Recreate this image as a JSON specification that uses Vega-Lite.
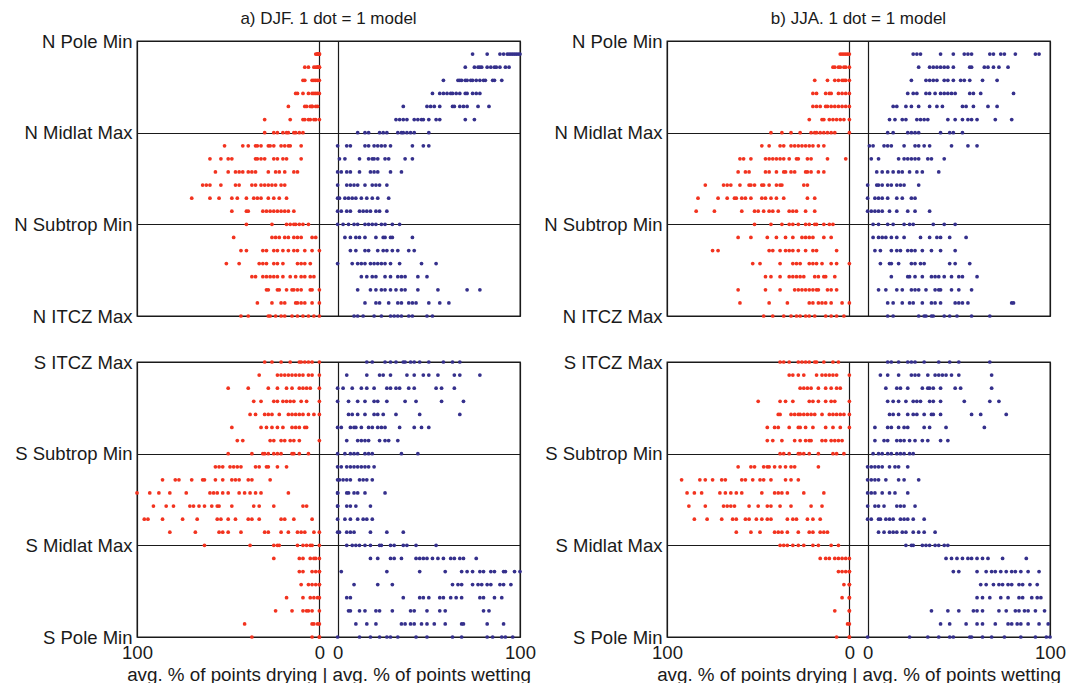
{
"$schema": "https://vega.github.io/schema/vega-lite/v6.json",
"padding": {"left": 6, "top": 9, "right": 0, "bottom": 0},
"config": {
 "font": "Liberation Sans",
 "view": {"stroke": "#1a1a1a", "strokeWidth": 1.3},
 "axis": {"grid": true, "gridColor": "#1a1a1a", "gridOpacity": 1, "gridWidth": 1.2, "ticks": false, "domain": false, "labelFont": "Liberation Sans", "labelFontSize": 18.5, "labelColor": "#1a1a1a", "titleFont": "Liberation Sans", "titleFontSize": 18.8, "titleFontWeight": "normal", "titleColor": "#1a1a1a"},
 "title": {"font": "Liberation Sans", "fontSize": 17, "fontWeight": "normal", "color": "#1a1a1a", "offset": 4, "anchor": "middle", "frame": "group"},
 "point": {"filled": true, "size": 14, "opacity": 1, "strokeWidth": 0}
},
"datasets": {
"aN": [
{"r":1,"d":0,"w":74},{"r":1,"d":0,"w":82},{"r":1,"d":1,"w":89},{"r":1,"d":1,"w":91},{"r":1,"d":2,"w":93},{"r":1,"d":0,"w":94},{"r":1,"d":1,"w":95},{"r":1,"d":1,"w":96},{"r":1,"w":97},{"r":1,"w":98},{"r":1,"w":99},{"r":1,"w":100},
{"r":2,"d":8,"w":70},{"r":2,"d":6,"w":75},{"r":2,"d":3,"w":77},{"r":2,"d":2,"w":78},{"r":2,"d":1,"w":79},{"r":2,"d":1,"w":82},{"r":2,"d":0,"w":84},{"r":2,"d":0,"w":86},{"r":2,"w":87},{"r":2,"w":89},{"r":2,"w":92},{"r":2,"w":94},
{"r":3,"d":9,"w":58},{"r":3,"d":8,"w":66},{"r":3,"d":4,"w":67},{"r":3,"d":3,"w":68},{"r":3,"d":2,"w":70},{"r":3,"d":1,"w":71},{"r":3,"d":0,"w":73},{"r":3,"w":74},{"r":3,"w":76},{"r":3,"w":78},{"r":3,"w":80},{"r":3,"w":81},{"r":3,"w":85},{"r":3,"w":86},{"r":3,"w":90},
{"r":4,"d":13,"w":52},{"r":4,"d":12,"w":56},{"r":4,"d":9,"w":58},{"r":4,"d":6,"w":60},{"r":4,"d":4,"w":62},{"r":4,"d":3,"w":63},{"r":4,"d":2,"w":65},{"r":4,"d":1,"w":67},{"r":4,"d":0,"w":70},{"r":4,"w":71},{"r":4,"w":74},{"r":4,"w":76},{"r":4,"w":78},
{"r":5,"d":17,"w":36},{"r":5,"d":8,"w":49},{"r":5,"d":7,"w":51},{"r":5,"d":5,"w":53},{"r":5,"d":4,"w":56},{"r":5,"d":4,"w":63},{"r":5,"d":2,"w":64},{"r":5,"d":1,"w":67},{"r":5,"w":69},{"r":5,"w":71},{"r":5,"w":77},{"r":5,"w":83},
{"r":6,"d":30,"w":32},{"r":6,"d":16,"w":34},{"r":6,"d":9,"w":36},{"r":6,"d":8,"w":38},{"r":6,"d":6,"w":42},{"r":6,"d":5,"w":44},{"r":6,"d":3,"w":46},{"r":6,"d":2,"w":47},{"r":6,"d":0,"w":50},{"r":6,"w":54},{"r":6,"w":56},{"r":6,"w":70},{"r":6,"w":75},
{"r":7,"d":30,"w":11},{"r":7,"d":25,"w":15},{"r":7,"d":23,"w":17},{"r":7,"d":20,"w":23},{"r":7,"d":18,"w":25},{"r":7,"d":17,"w":27},{"r":7,"d":14,"w":33},{"r":7,"d":13,"w":35},{"r":7,"d":11,"w":36},{"r":7,"d":9,"w":38},{"r":7,"w":40},{"r":7,"w":42},{"r":7,"w":50},
{"r":8,"d":52,"w":0},{"r":8,"d":42,"w":5},{"r":8,"d":39,"w":7},{"r":8,"d":35,"w":15},{"r":8,"d":34,"w":17},{"r":8,"d":32,"w":20},{"r":8,"d":28,"w":22},{"r":8,"d":27,"w":24},{"r":8,"d":25,"w":26},{"r":8,"d":21,"w":29},{"r":8,"d":19,"w":41},{"r":8,"d":17,"w":47},{"r":8,"d":16,"w":50},{"r":8,"d":10},
{"r":9,"d":60,"w":1},{"r":9,"d":54,"w":4},{"r":9,"d":50,"w":12},{"r":9,"d":48,"w":17},{"r":9,"d":35,"w":19},{"r":9,"d":34,"w":20},{"r":9,"d":32,"w":22},{"r":9,"d":30,"w":26},{"r":9,"d":25,"w":28},{"r":9,"d":23,"w":37},{"r":9,"d":20,"w":41},{"r":9,"d":18},{"r":9,"d":10},
{"r":10,"d":57,"w":0},{"r":10,"d":50,"w":2},{"r":10,"d":46,"w":5},{"r":10,"d":44,"w":7},{"r":10,"d":42,"w":12},{"r":10,"d":39,"w":18},{"r":10,"d":37,"w":20},{"r":10,"d":35,"w":22},{"r":10,"d":28,"w":29},{"r":10,"d":24,"w":35},{"r":10,"d":22},{"r":10,"d":19},{"r":10,"d":14},{"r":10,"d":12},
{"r":11,"d":64,"w":0},{"r":11,"d":62,"w":5},{"r":11,"d":60,"w":7},{"r":11,"d":54,"w":9},{"r":11,"d":46,"w":11},{"r":11,"d":44,"w":15},{"r":11,"d":37,"w":19},{"r":11,"d":35,"w":21},{"r":11,"d":32,"w":23},{"r":11,"d":30,"w":27},{"r":11,"d":28},{"r":11,"d":26},{"r":11,"d":24},{"r":11,"d":21},{"r":11,"d":19},
{"r":12,"d":70,"w":0},{"r":12,"d":60,"w":1},{"r":12,"d":55,"w":4},{"r":12,"d":48,"w":6},{"r":12,"d":45,"w":8},{"r":12,"d":40,"w":10},{"r":12,"d":36,"w":13},{"r":12,"d":34,"w":16},{"r":12,"d":32,"w":19},{"r":12,"d":28,"w":22},{"r":12,"d":25,"w":28},{"r":12,"d":22},{"r":12,"d":18},
{"r":13,"d":48,"w":0},{"r":13,"d":40,"w":2},{"r":13,"d":39,"w":5},{"r":13,"d":31,"w":7},{"r":13,"d":29,"w":12},{"r":13,"d":27,"w":14},{"r":13,"d":25,"w":16},{"r":13,"d":23,"w":18},{"r":13,"d":21,"w":21},{"r":13,"d":19,"w":23},{"r":13,"d":17,"w":27},{"r":13,"d":14},
{"r":14,"d":40,"w":0},{"r":14,"d":26,"w":3},{"r":14,"d":18,"w":6},{"r":14,"d":16,"w":9},{"r":14,"d":14,"w":11},{"r":14,"d":13,"w":15},{"r":14,"d":11,"w":17},{"r":14,"d":9,"w":19},{"r":14,"d":6,"w":21},{"r":14,"w":24},{"r":14,"w":26},{"r":14,"w":30},{"r":14,"w":34},
{"r":15,"d":47,"w":4},{"r":15,"d":26,"w":7},{"r":15,"d":24,"w":10},{"r":15,"d":22,"w":12},{"r":15,"d":19,"w":15},{"r":15,"d":17,"w":21},{"r":15,"d":14,"w":25},{"r":15,"d":12,"w":26},{"r":15,"d":10,"w":29},{"r":15,"d":4,"w":30},{"r":15,"d":2,"w":41},
{"r":16,"d":43,"w":7},{"r":16,"d":40,"w":10},{"r":16,"d":31,"w":15},{"r":16,"d":29,"w":17},{"r":16,"d":25,"w":22},{"r":16,"d":23,"w":25},{"r":16,"d":20,"w":27},{"r":16,"d":17,"w":30},{"r":16,"d":14,"w":33},{"r":16,"d":12,"w":39},{"r":16,"d":8,"w":42},{"r":16,"d":4},{"r":16,"d":0},
{"r":17,"d":51,"w":0},{"r":17,"d":44,"w":8},{"r":17,"d":33,"w":11},{"r":17,"d":31,"w":13},{"r":17,"d":29,"w":15},{"r":17,"d":25,"w":18},{"r":17,"d":23,"w":20},{"r":17,"d":20,"w":22},{"r":17,"d":12,"w":24},{"r":17,"d":10,"w":26},{"r":17,"d":8,"w":29},{"r":17,"d":5,"w":34},{"r":17,"w":46},{"r":17,"w":54},
{"r":18,"d":37,"w":13},{"r":18,"d":35,"w":16},{"r":18,"d":31,"w":19},{"r":18,"d":29,"w":21},{"r":18,"d":27,"w":26},{"r":18,"d":25,"w":29},{"r":18,"d":23,"w":33},{"r":18,"d":20,"w":35},{"r":18,"d":16,"w":37},{"r":18,"d":13,"w":44},{"r":18,"d":10,"w":49},{"r":18,"d":8},{"r":18,"d":5},{"r":18,"d":3},
{"r":19,"d":29,"w":11},{"r":19,"d":28,"w":18},{"r":19,"d":23,"w":21},{"r":19,"d":22,"w":24},{"r":19,"d":18,"w":26},{"r":19,"d":15,"w":29},{"r":19,"d":14,"w":32},{"r":19,"d":12,"w":35},{"r":19,"d":10,"w":37},{"r":19,"d":5,"w":44},{"r":19,"d":4,"w":55},{"r":19,"d":0,"w":71},{"r":19,"w":78},
{"r":20,"d":34,"w":15},{"r":20,"d":26,"w":21},{"r":20,"d":21,"w":23},{"r":20,"d":19,"w":28},{"r":20,"d":13,"w":33},{"r":20,"d":12,"w":35},{"r":20,"d":10,"w":39},{"r":20,"d":8,"w":41},{"r":20,"d":4,"w":43},{"r":20,"d":0,"w":50},{"r":20,"w":56},{"r":20,"w":61},
{"r":21,"d":43,"w":9},{"r":21,"d":39,"w":11},{"r":21,"d":28,"w":14},{"r":21,"d":27,"w":20},{"r":21,"d":24,"w":24},{"r":21,"d":21,"w":29},{"r":21,"d":19,"w":31},{"r":21,"d":15,"w":33},{"r":21,"d":12,"w":35},{"r":21,"d":9,"w":39},{"r":21,"d":6,"w":41},{"r":21,"d":3,"w":49},{"r":21,"d":0,"w":52}
],
"aS": [
{"r":0,"d":30,"w":16},{"r":0,"d":26,"w":19},{"r":0,"d":21,"w":26},{"r":0,"d":16,"w":29},{"r":0,"d":11,"w":32},{"r":0,"d":10,"w":36},{"r":0,"d":8,"w":37},{"r":0,"d":6,"w":40},{"r":0,"d":4,"w":42},{"r":0,"d":0,"w":45},{"r":0,"w":50},{"r":0,"w":58},{"r":0,"w":63},{"r":0,"w":67},
{"r":1,"d":33,"w":5},{"r":1,"d":23,"w":16},{"r":1,"d":21,"w":23},{"r":1,"d":19,"w":25},{"r":1,"d":17,"w":29},{"r":1,"d":15,"w":38},{"r":1,"d":13,"w":42},{"r":1,"d":11,"w":47},{"r":1,"d":9,"w":50},{"r":1,"d":6,"w":55},{"r":1,"d":4,"w":64},{"r":1,"d":0,"w":67},{"r":1,"w":78},
{"r":2,"d":50,"w":0},{"r":2,"d":39,"w":3},{"r":2,"d":28,"w":8},{"r":2,"d":23,"w":13},{"r":2,"d":18,"w":16},{"r":2,"d":15,"w":20},{"r":2,"d":11,"w":27},{"r":2,"d":9,"w":29},{"r":2,"d":7,"w":32},{"r":2,"d":5,"w":34},{"r":2,"d":0,"w":39},{"r":2,"w":42},{"r":2,"w":54},{"r":2,"w":57},{"r":2,"w":64},
{"r":3,"d":36,"w":0},{"r":3,"d":32,"w":6},{"r":3,"d":25,"w":11},{"r":3,"d":23,"w":15},{"r":3,"d":20,"w":20},{"r":3,"d":18,"w":22},{"r":3,"d":16,"w":27},{"r":3,"d":14,"w":37},{"r":3,"d":10,"w":43},{"r":3,"d":7,"w":57},{"r":3,"d":0,"w":69},
{"r":4,"d":38,"w":6},{"r":4,"d":35,"w":8},{"r":4,"d":30,"w":11},{"r":4,"d":28,"w":15},{"r":4,"d":26,"w":20},{"r":4,"d":22,"w":22},{"r":4,"d":17,"w":25},{"r":4,"d":15,"w":32},{"r":4,"d":13,"w":45},{"r":4,"d":11,"w":67},{"r":4,"d":9},{"r":4,"d":6},{"r":4,"d":3},{"r":4,"d":0},
{"r":5,"d":48,"w":0},{"r":5,"d":32,"w":2},{"r":5,"d":29,"w":7},{"r":5,"d":26,"w":9},{"r":5,"d":23,"w":10},{"r":5,"d":20,"w":13},{"r":5,"d":15,"w":17},{"r":5,"d":13,"w":19},{"r":5,"d":11,"w":22},{"r":5,"d":8,"w":24},{"r":5,"d":7,"w":26},{"r":5,"w":34},{"r":5,"w":42},{"r":5,"w":46},{"r":5,"w":50},
{"r":6,"d":45,"w":5},{"r":6,"d":42,"w":11},{"r":6,"d":27,"w":13},{"r":6,"d":25,"w":15},{"r":6,"d":21,"w":17},{"r":6,"d":19,"w":23},{"r":6,"d":16,"w":26},{"r":6,"d":14,"w":28},{"r":6,"d":11,"w":33},{"r":6,"d":0},
{"r":7,"d":50,"w":0},{"r":7,"d":37,"w":4},{"r":7,"d":31,"w":7},{"r":7,"d":30,"w":9},{"r":7,"d":28,"w":11},{"r":7,"d":25,"w":15},{"r":7,"d":23,"w":17},{"r":7,"d":21,"w":19},{"r":7,"d":15,"w":35},{"r":7,"d":14,"w":44},{"r":7,"d":11},{"r":7,"d":6},
{"r":8,"d":57,"w":0},{"r":8,"d":55,"w":2},{"r":8,"d":53,"w":5},{"r":8,"d":49,"w":7},{"r":8,"d":47,"w":9},{"r":8,"d":45,"w":11},{"r":8,"d":43,"w":13},{"r":8,"d":35,"w":15},{"r":8,"d":33,"w":17},{"r":8,"d":29,"w":20},{"r":8,"d":28},{"r":8,"d":23},{"r":8,"d":18},
{"r":9,"d":86,"w":0},{"r":9,"d":79,"w":1},{"r":9,"d":77,"w":3},{"r":9,"d":70,"w":5},{"r":9,"d":64,"w":7},{"r":9,"d":63,"w":12},{"r":9,"d":57,"w":14},{"r":9,"d":53,"w":16},{"r":9,"d":48,"w":19},{"r":9,"d":46},{"r":9,"d":44},{"r":9,"d":39},{"r":9,"d":37},{"r":9,"d":27},
{"r":10,"d":100,"w":0},{"r":10,"d":93,"w":0},{"r":10,"d":88,"w":5},{"r":10,"d":82,"w":6},{"r":10,"d":73,"w":9},{"r":10,"d":60,"w":11},{"r":10,"d":58,"w":15},{"r":10,"d":56,"w":26},{"r":10,"d":53},{"r":10,"d":50},{"r":10,"d":44},{"r":10,"d":41},{"r":10,"d":38},{"r":10,"d":35},{"r":10,"d":32},{"r":10,"d":17},
{"r":11,"d":91,"w":0},{"r":11,"d":84,"w":0},{"r":11,"d":80,"w":5},{"r":11,"d":71,"w":7},{"r":11,"d":69,"w":10},{"r":11,"d":66,"w":18},{"r":11,"d":63},{"r":11,"d":59},{"r":11,"d":56},{"r":11,"d":55},{"r":11,"d":48},{"r":11,"d":36},{"r":11,"d":33},{"r":11,"d":25},{"r":11,"d":9},{"r":11,"d":7},
{"r":12,"d":96,"w":0},{"r":12,"d":94,"w":4},{"r":12,"d":86,"w":7},{"r":12,"d":75,"w":11},{"r":12,"d":67,"w":14},{"r":12,"d":56,"w":16},{"r":12,"d":54,"w":19},{"r":12,"d":50},{"r":12,"d":46},{"r":12,"d":39},{"r":12,"d":37},{"r":12,"d":33},{"r":12,"d":21},{"r":12,"d":19},{"r":12,"d":14},{"r":12,"d":4},
{"r":13,"d":82,"w":0},{"r":13,"d":68,"w":1},{"r":13,"d":55,"w":5},{"r":13,"d":53,"w":7},{"r":13,"d":50,"w":9},{"r":13,"d":43,"w":18},{"r":13,"d":30,"w":27},{"r":13,"d":28,"w":36},{"r":13,"d":21},{"r":13,"d":17},{"r":13,"d":12},{"r":13,"d":10},{"r":13,"d":8},{"r":13,"d":3},{"r":13,"d":0},
{"r":14,"d":63,"w":5},{"r":14,"d":38,"w":8},{"r":14,"d":25,"w":10},{"r":14,"d":23,"w":12},{"r":14,"d":22,"w":15},{"r":14,"d":12,"w":18},{"r":14,"d":9,"w":23},{"r":14,"d":7,"w":24},{"r":14,"d":5,"w":29},{"r":14,"d":4,"w":31},{"r":14,"d":0,"w":36},{"r":14,"w":38},{"r":14,"w":43},{"r":14,"w":54},
{"r":15,"d":25,"w":18},{"r":15,"d":11,"w":22},{"r":15,"d":9,"w":29},{"r":15,"d":5,"w":31},{"r":15,"d":3,"w":35},{"r":15,"d":2,"w":43},{"r":15,"d":0,"w":45},{"r":15,"w":47},{"r":15,"w":49},{"r":15,"w":52},{"r":15,"w":55},{"r":15,"w":58},{"r":15,"w":62},{"r":15,"w":64},{"r":15,"w":67},{"r":15,"w":69},{"r":15,"w":76},
{"r":16,"d":11,"w":2},{"r":16,"d":9,"w":27},{"r":16,"d":4,"w":45},{"r":16,"d":2,"w":59},{"r":16,"d":0,"w":68},{"r":16,"d":0,"w":71},{"r":16,"w":74},{"r":16,"w":78},{"r":16,"w":80},{"r":16,"w":84},{"r":16,"w":86},{"r":16,"w":91},{"r":16,"w":92},{"r":16,"w":97},{"r":16,"w":100},
{"r":17,"d":10,"w":9},{"r":17,"d":6,"w":22},{"r":17,"d":4,"w":30},{"r":17,"d":2,"w":63},{"r":17,"d":0,"w":66},{"r":17,"d":0,"w":68},{"r":17,"w":74},{"r":17,"w":77},{"r":17,"w":79},{"r":17,"w":82},{"r":17,"w":84},{"r":17,"w":89},{"r":17,"w":91},{"r":17,"w":95},
{"r":18,"d":18,"w":5},{"r":18,"d":9,"w":7},{"r":18,"d":5,"w":36},{"r":18,"d":3,"w":45},{"r":18,"d":1,"w":47},{"r":18,"d":0,"w":50},{"r":18,"w":56},{"r":18,"w":58},{"r":18,"w":62},{"r":18,"w":65},{"r":18,"w":68},{"r":18,"w":78},{"r":18,"w":80},{"r":18,"w":86},{"r":18,"w":90},
{"r":19,"d":24,"w":6},{"r":19,"d":15,"w":7},{"r":19,"d":9,"w":12},{"r":19,"d":7,"w":15},{"r":19,"d":6,"w":21},{"r":19,"d":4,"w":23},{"r":19,"d":0,"w":30},{"r":19,"w":40},{"r":19,"w":42},{"r":19,"w":49},{"r":19,"w":56},{"r":19,"w":59},{"r":19,"w":80},{"r":19,"w":83},
{"r":20,"d":41,"w":10},{"r":20,"d":4,"w":16},{"r":20,"d":3,"w":21},{"r":20,"d":1,"w":35},{"r":20,"d":0,"w":37},{"r":20,"w":40},{"r":20,"w":42},{"r":20,"w":46},{"r":20,"w":49},{"r":20,"w":53},{"r":20,"w":59},{"r":20,"w":68},{"r":20,"w":69},{"r":20,"w":82},{"r":20,"w":91},
{"r":21,"d":37,"w":0},{"r":21,"d":4,"w":12},{"r":21,"d":0,"w":18},{"r":21,"d":0,"w":23},{"r":21,"w":27},{"r":21,"w":29},{"r":21,"w":33},{"r":21,"w":43},{"r":21,"w":49},{"r":21,"w":63},{"r":21,"w":68},{"r":21,"w":82},{"r":21,"w":85},{"r":21,"w":90},{"r":21,"w":92},{"r":21,"w":96}
],
"bN": [
{"r":1,"d":5,"w":25},{"r":1,"d":4,"w":27},{"r":1,"d":3,"w":29},{"r":1,"d":1,"w":40},{"r":1,"d":0,"w":47},{"r":1,"d":2,"w":53},{"r":1,"w":55},{"r":1,"w":57},{"r":1,"w":67},{"r":1,"w":69},{"r":1,"w":73},{"r":1,"w":75},{"r":1,"w":81},{"r":1,"w":92},{"r":1,"w":94},
{"r":2,"d":9,"w":28},{"r":2,"d":8,"w":34},{"r":2,"d":6,"w":36},{"r":2,"d":5,"w":38},{"r":2,"d":3,"w":40},{"r":2,"d":2,"w":42},{"r":2,"d":0,"w":44},{"r":2,"w":47},{"r":2,"w":56},{"r":2,"w":57},{"r":2,"w":64},{"r":2,"w":66},{"r":2,"w":69},{"r":2,"w":72},{"r":2,"w":77},
{"r":3,"d":19,"w":24},{"r":3,"d":12,"w":32},{"r":3,"d":8,"w":34},{"r":3,"d":6,"w":36},{"r":3,"d":4,"w":38},{"r":3,"d":3,"w":42},{"r":3,"d":2,"w":44},{"r":3,"d":0,"w":47},{"r":3,"w":51},{"r":3,"w":53},{"r":3,"w":56},{"r":3,"w":63},{"r":3,"w":71},
{"r":4,"d":20,"w":22},{"r":4,"d":18,"w":25},{"r":4,"d":13,"w":27},{"r":4,"d":11,"w":32},{"r":4,"d":10,"w":34},{"r":4,"d":6,"w":37},{"r":4,"d":4,"w":40},{"r":4,"d":2,"w":42},{"r":4,"d":0,"w":44},{"r":4,"w":46},{"r":4,"w":48},{"r":4,"w":56},{"r":4,"w":58},{"r":4,"w":62},{"r":4,"w":80},
{"r":5,"d":20,"w":14},{"r":5,"d":18,"w":16},{"r":5,"d":16,"w":21},{"r":5,"d":13,"w":24},{"r":5,"d":12,"w":28},{"r":5,"d":10,"w":34},{"r":5,"d":8,"w":38},{"r":5,"d":6,"w":41},{"r":5,"d":4,"w":52},{"r":5,"d":2,"w":54},{"r":5,"d":0,"w":58},{"r":5,"w":66},{"r":5,"w":71},
{"r":6,"d":22,"w":12},{"r":6,"d":15,"w":15},{"r":6,"d":14,"w":19},{"r":6,"d":11,"w":21},{"r":6,"d":9,"w":27},{"r":6,"d":7,"w":29},{"r":6,"d":5,"w":31},{"r":6,"d":3,"w":33},{"r":6,"d":0,"w":44},{"r":6,"w":48},{"r":6,"w":52},{"r":6,"w":55},{"r":6,"w":57},{"r":6,"w":60},{"r":6,"w":70},{"r":6,"w":79},
{"r":7,"d":43,"w":11},{"r":7,"d":37,"w":14},{"r":7,"d":32,"w":22},{"r":7,"d":27,"w":24},{"r":7,"d":21,"w":26},{"r":7,"d":19,"w":28},{"r":7,"d":18,"w":40},{"r":7,"d":16,"w":45},{"r":7,"d":14,"w":47},{"r":7,"d":12,"w":52},{"r":7,"d":10},{"r":7,"d":8},{"r":7,"d":0},
{"r":8,"d":48,"w":1},{"r":8,"d":44,"w":3},{"r":8,"d":38,"w":9},{"r":8,"d":36,"w":11},{"r":8,"d":32,"w":13},{"r":8,"d":30,"w":20},{"r":8,"d":28,"w":26},{"r":8,"d":26,"w":28},{"r":8,"d":24,"w":31},{"r":8,"d":22,"w":34},{"r":8,"d":20,"w":46},{"r":8,"d":17,"w":55},{"r":8,"d":14,"w":60},
{"r":9,"d":60,"w":2},{"r":9,"d":58,"w":6},{"r":9,"d":54,"w":17},{"r":9,"d":46,"w":20},{"r":9,"d":44,"w":22},{"r":9,"d":42,"w":24},{"r":9,"d":40,"w":26},{"r":9,"d":38,"w":28},{"r":9,"d":36,"w":33},{"r":9,"d":33,"w":35},{"r":9,"d":29,"w":42},{"r":9,"d":28},{"r":9,"d":23},{"r":9,"d":21},{"r":9,"d":12},{"r":9,"d":2},
{"r":10,"d":61,"w":5},{"r":10,"d":57,"w":8},{"r":10,"d":55,"w":11},{"r":10,"d":46,"w":14},{"r":10,"d":44,"w":17},{"r":10,"d":40,"w":19},{"r":10,"d":36,"w":23},{"r":10,"d":35,"w":27},{"r":10,"d":32,"w":30},{"r":10,"d":30,"w":39},{"r":10,"d":24},{"r":10,"d":23},{"r":10,"d":21},{"r":10,"d":17},{"r":10,"d":14},
{"r":11,"d":79,"w":0},{"r":11,"d":69,"w":5},{"r":11,"d":67,"w":6},{"r":11,"d":65,"w":8},{"r":11,"d":60,"w":11},{"r":11,"d":55,"w":13},{"r":11,"d":54,"w":16},{"r":11,"d":52,"w":18},{"r":11,"d":48,"w":20},{"r":11,"d":47,"w":28},{"r":11,"d":44},{"r":11,"d":40},{"r":11,"d":38},{"r":11,"d":37},{"r":11,"d":25},{"r":11,"d":23},
{"r":12,"d":83,"w":0},{"r":12,"d":72,"w":4},{"r":12,"d":67,"w":6},{"r":12,"d":63,"w":8},{"r":12,"d":62,"w":11},{"r":12,"d":59,"w":16},{"r":12,"d":57,"w":19},{"r":12,"d":54,"w":24},{"r":12,"d":48,"w":26},{"r":12,"d":46},{"r":12,"d":43},{"r":12,"d":40},{"r":12,"d":36},{"r":12,"d":23},{"r":12,"d":19},
{"r":13,"d":84,"w":0},{"r":13,"d":74,"w":2},{"r":13,"d":59,"w":4},{"r":13,"d":52,"w":6},{"r":13,"d":50,"w":8},{"r":13,"d":47,"w":12},{"r":13,"d":44,"w":16},{"r":13,"d":42,"w":22},{"r":13,"d":39,"w":26},{"r":13,"d":33,"w":34},{"r":13,"d":31},{"r":13,"d":29},{"r":13,"d":24},{"r":13,"d":19},
{"r":14,"d":52,"w":3},{"r":14,"d":43,"w":6},{"r":14,"d":37,"w":11},{"r":14,"d":33,"w":14},{"r":14,"d":31,"w":20},{"r":14,"d":28,"w":23},{"r":14,"d":24,"w":25},{"r":14,"d":22,"w":36},{"r":14,"d":19,"w":42},{"r":14,"d":18,"w":48},{"r":14,"d":14},{"r":14,"d":11},{"r":14,"d":9},
{"r":15,"d":61,"w":3},{"r":15,"d":54,"w":6},{"r":15,"d":45,"w":8},{"r":15,"d":40,"w":10},{"r":15,"d":35,"w":13},{"r":15,"d":31,"w":16},{"r":15,"d":26,"w":20},{"r":15,"d":24,"w":29},{"r":15,"d":22,"w":34},{"r":15,"d":20,"w":38},{"r":15,"d":14,"w":40},{"r":15,"d":10,"w":45},{"r":15,"w":54},
{"r":16,"d":75,"w":4},{"r":16,"d":72,"w":7},{"r":16,"d":44,"w":13},{"r":16,"d":42,"w":16},{"r":16,"d":38,"w":18},{"r":16,"d":35,"w":22},{"r":16,"d":33,"w":24},{"r":16,"d":31,"w":26},{"r":16,"d":28,"w":30},{"r":16,"d":24,"w":35},{"r":16,"d":20,"w":40},{"r":16,"d":18,"w":48},{"r":16,"d":7},
{"r":17,"d":53,"w":7},{"r":17,"d":49,"w":12},{"r":17,"d":38,"w":13},{"r":17,"d":31,"w":17},{"r":17,"d":29,"w":24},{"r":17,"d":27,"w":26},{"r":17,"d":22,"w":29},{"r":17,"d":20,"w":31},{"r":17,"d":18,"w":45},{"r":17,"d":15,"w":48},{"r":17,"d":10,"w":56},{"r":17,"d":7},{"r":17,"d":0},
{"r":18,"d":46,"w":13},{"r":18,"d":43,"w":22},{"r":18,"d":38,"w":23},{"r":18,"d":33,"w":26},{"r":18,"d":31,"w":30},{"r":18,"d":29,"w":35},{"r":18,"d":27,"w":37},{"r":18,"d":25,"w":39},{"r":18,"d":19,"w":42},{"r":18,"d":17,"w":46},{"r":18,"d":14,"w":50},{"r":18,"d":13,"w":52},{"r":18,"d":8,"w":60},
{"r":19,"d":61,"w":6},{"r":19,"d":46,"w":10},{"r":19,"d":38,"w":16},{"r":19,"d":30,"w":19},{"r":19,"d":28,"w":24},{"r":19,"d":26,"w":26},{"r":19,"d":24,"w":28},{"r":19,"d":22,"w":32},{"r":19,"d":20,"w":37},{"r":19,"d":18,"w":39},{"r":19,"d":17,"w":40},{"r":19,"d":12,"w":46},{"r":19,"d":10,"w":50},{"r":19,"d":7,"w":57},
{"r":20,"d":60,"w":11},{"r":20,"d":44,"w":14},{"r":20,"d":34,"w":19},{"r":20,"d":22,"w":23},{"r":20,"d":20,"w":25},{"r":20,"d":17,"w":30},{"r":20,"d":15,"w":35},{"r":20,"d":13,"w":37},{"r":20,"d":10,"w":40},{"r":20,"d":4,"w":48},{"r":20,"d":0,"w":50},{"r":20,"w":52},{"r":20,"w":55},{"r":20,"w":79},{"r":20,"w":80},
{"r":21,"d":47,"w":11},{"r":21,"d":42,"w":14},{"r":21,"d":36,"w":28},{"r":21,"d":32,"w":31},{"r":21,"d":29,"w":32},{"r":21,"d":27,"w":35},{"r":21,"d":24,"w":36},{"r":21,"d":22,"w":42},{"r":21,"d":19,"w":45},{"r":21,"d":13,"w":49},{"r":21,"d":10,"w":57},{"r":21,"d":7,"w":67},{"r":21,"d":3}
],
"bS": [
{"r":0,"d":38,"w":11},{"r":0,"d":36,"w":13},{"r":0,"d":33,"w":17},{"r":0,"d":28,"w":22},{"r":0,"d":26,"w":24},{"r":0,"d":24,"w":26},{"r":0,"d":22,"w":31},{"r":0,"d":19,"w":39},{"r":0,"d":18,"w":45},{"r":0,"d":14,"w":50},{"r":0,"d":9,"w":67},{"r":0,"d":6},
{"r":1,"d":33,"w":7},{"r":1,"d":31,"w":11},{"r":1,"d":28,"w":17},{"r":1,"d":25,"w":24},{"r":1,"d":18,"w":26},{"r":1,"d":15,"w":28},{"r":1,"d":13,"w":33},{"r":1,"d":11,"w":37},{"r":1,"d":9,"w":39},{"r":1,"d":7,"w":41},{"r":1,"d":0,"w":43},{"r":1,"w":46},{"r":1,"w":50},{"r":1,"w":68},
{"r":2,"d":27,"w":10},{"r":2,"d":25,"w":16},{"r":2,"d":23,"w":18},{"r":2,"d":21,"w":22},{"r":2,"d":17,"w":30},{"r":2,"d":13,"w":33},{"r":2,"d":10,"w":34},{"r":2,"d":7,"w":36},{"r":2,"d":5,"w":40},{"r":2,"w":48},{"r":2,"w":51},{"r":2,"w":68},
{"r":3,"d":50,"w":11},{"r":3,"d":38,"w":14},{"r":3,"d":35,"w":17},{"r":3,"d":31,"w":21},{"r":3,"d":22,"w":25},{"r":3,"d":20,"w":27},{"r":3,"d":17,"w":29},{"r":3,"d":13,"w":34},{"r":3,"d":10,"w":36},{"r":3,"d":8,"w":40},{"r":3,"d":0,"w":53},{"r":3,"w":67},{"r":3,"w":72},
{"r":4,"d":39,"w":12},{"r":4,"d":38,"w":14},{"r":4,"d":32,"w":17},{"r":4,"d":30,"w":22},{"r":4,"d":28,"w":25},{"r":4,"d":27,"w":27},{"r":4,"d":25,"w":31},{"r":4,"d":23,"w":35},{"r":4,"d":21,"w":36},{"r":4,"d":19,"w":40},{"r":4,"d":15,"w":57},{"r":4,"d":11,"w":62},{"r":4,"d":9,"w":76},{"r":4,"d":7},{"r":4,"d":5},{"r":4,"d":3},{"r":4,"d":0},
{"r":5,"d":45,"w":4},{"r":5,"d":41,"w":11},{"r":5,"d":39,"w":13},{"r":5,"d":33,"w":17},{"r":5,"d":28,"w":20},{"r":5,"d":27,"w":22},{"r":5,"d":24,"w":31},{"r":5,"d":20,"w":34},{"r":5,"d":13,"w":43},{"r":5,"d":9,"w":64},{"r":5,"d":5},{"r":5,"d":0},
{"r":6,"d":45,"w":4},{"r":6,"d":42,"w":9},{"r":6,"d":37,"w":11},{"r":6,"d":30,"w":16},{"r":6,"d":27,"w":18},{"r":6,"d":24,"w":20},{"r":6,"d":22,"w":23},{"r":6,"d":21,"w":26},{"r":6,"d":15,"w":30},{"r":6,"d":13,"w":33},{"r":6,"d":10,"w":40},{"r":6,"d":8,"w":44},{"r":6,"d":6},{"r":6,"d":4},
{"r":7,"d":38,"w":3},{"r":7,"d":36,"w":6},{"r":7,"d":33,"w":8},{"r":7,"d":28,"w":11},{"r":7,"d":27,"w":13},{"r":7,"d":25,"w":16},{"r":7,"d":22,"w":18},{"r":7,"d":17,"w":20},{"r":7,"d":9,"w":23},{"r":7,"d":7,"w":25},{"r":7,"d":3},
{"r":8,"d":61,"w":0},{"r":8,"d":54,"w":2},{"r":8,"d":52,"w":4},{"r":8,"d":47,"w":6},{"r":8,"d":45,"w":8},{"r":8,"d":44,"w":12},{"r":8,"d":41,"w":15},{"r":8,"d":38,"w":17},{"r":8,"d":35,"w":22},{"r":8,"d":32},{"r":8,"d":30},{"r":8,"d":17},
{"r":9,"d":92,"w":0},{"r":9,"d":82,"w":2},{"r":9,"d":79,"w":4},{"r":9,"d":75,"w":6},{"r":9,"d":70,"w":10},{"r":9,"d":68,"w":17},{"r":9,"d":59,"w":20},{"r":9,"d":57,"w":28},{"r":9,"d":53},{"r":9,"d":49},{"r":9,"d":47},{"r":9,"d":43},{"r":9,"d":35},{"r":9,"d":32},{"r":9,"d":28},
{"r":10,"d":89,"w":0},{"r":10,"d":85,"w":2},{"r":10,"d":81,"w":4},{"r":10,"d":71,"w":8},{"r":10,"d":68,"w":12},{"r":10,"d":65,"w":15},{"r":10,"d":62,"w":22},{"r":10,"d":59},{"r":10,"d":48},{"r":10,"d":41},{"r":10,"d":39},{"r":10,"d":37},{"r":10,"d":34},{"r":10,"d":25},{"r":10,"d":14},
{"r":11,"d":88,"w":0},{"r":11,"d":79,"w":4},{"r":11,"d":69,"w":6},{"r":11,"d":67,"w":9},{"r":11,"d":65,"w":16},{"r":11,"d":63,"w":18},{"r":11,"d":55,"w":20},{"r":11,"d":50,"w":26},{"r":11,"d":45},{"r":11,"d":43},{"r":11,"d":38},{"r":11,"d":32},{"r":11,"d":21},{"r":11,"d":15},
{"r":12,"d":85,"w":0},{"r":12,"d":78,"w":2},{"r":12,"d":70,"w":6},{"r":12,"d":64,"w":7},{"r":12,"d":62,"w":10},{"r":12,"d":57,"w":12},{"r":12,"d":55,"w":14},{"r":12,"d":51,"w":18},{"r":12,"d":48,"w":20},{"r":12,"d":45,"w":22},{"r":12,"d":43,"w":25},{"r":12,"d":34,"w":31},{"r":12,"d":31},{"r":12,"d":29},{"r":12,"d":23},{"r":12,"d":20},{"r":12,"d":16},
{"r":13,"d":62,"w":6},{"r":13,"d":54,"w":9},{"r":13,"d":49,"w":12},{"r":13,"d":41,"w":14},{"r":13,"d":39,"w":16},{"r":13,"d":37,"w":19},{"r":13,"d":34,"w":21},{"r":13,"d":28,"w":25},{"r":13,"d":22,"w":28},{"r":13,"d":20,"w":31},{"r":13,"d":16,"w":37},{"r":13,"d":14},{"r":13,"d":12},
{"r":14,"d":38,"w":21},{"r":14,"d":36,"w":24},{"r":14,"d":34,"w":25},{"r":14,"d":31,"w":30},{"r":14,"d":28,"w":32},{"r":14,"d":25,"w":34},{"r":14,"d":20,"w":37},{"r":14,"d":17,"w":39},{"r":14,"d":10,"w":42},{"r":14,"d":6,"w":44},
{"r":15,"d":16,"w":43},{"r":15,"d":13,"w":46},{"r":15,"d":11,"w":49},{"r":15,"d":8,"w":52},{"r":15,"d":6,"w":55},{"r":15,"d":4,"w":57},{"r":15,"d":2,"w":60},{"r":15,"d":0,"w":63},{"r":15,"w":66},{"r":15,"w":74},{"r":15,"w":87},
{"r":16,"d":6,"w":47},{"r":16,"d":4,"w":50},{"r":16,"d":2,"w":60},{"r":16,"d":0,"w":65},{"r":16,"d":0,"w":68},{"r":16,"w":70},{"r":16,"w":73},{"r":16,"w":76},{"r":16,"w":79},{"r":16,"w":81},{"r":16,"w":84},{"r":16,"w":88},{"r":16,"w":94},
{"r":17,"d":3,"w":62},{"r":17,"d":0,"w":65},{"r":17,"d":0,"w":69},{"r":17,"w":72},{"r":17,"w":74},{"r":17,"w":77},{"r":17,"w":79},{"r":17,"w":83},{"r":17,"w":85},{"r":17,"w":89},{"r":17,"w":93},
{"r":18,"d":4,"w":60},{"r":18,"d":0,"w":63},{"r":18,"d":0,"w":67},{"r":18,"w":73},{"r":18,"w":77},{"r":18,"w":83},{"r":18,"w":85},{"r":18,"w":90},{"r":18,"w":93},{"r":18,"w":95},
{"r":19,"d":8,"w":35},{"r":19,"d":0,"w":44},{"r":19,"d":0,"w":50},{"r":19,"w":58},{"r":19,"w":60},{"r":19,"w":63},{"r":19,"w":72},{"r":19,"w":76},{"r":19,"w":81},{"r":19,"w":83},{"r":19,"w":86},{"r":19,"w":88},{"r":19,"w":92},{"r":19,"w":97},
{"r":20,"d":1,"w":40},{"r":20,"d":0,"w":45},{"r":20,"w":54},{"r":20,"w":60},{"r":20,"w":63},{"r":20,"w":70},{"r":20,"w":77},{"r":20,"w":79},{"r":20,"w":82},{"r":20,"w":84},{"r":20,"w":88},{"r":20,"w":94},{"r":20,"w":99},
{"r":21,"d":7,"w":0},{"r":21,"d":0,"w":23},{"r":21,"d":0,"w":33},{"r":21,"w":39},{"r":21,"w":45},{"r":21,"w":47},{"r":21,"w":56},{"r":21,"w":57},{"r":21,"w":63},{"r":21,"w":68},{"r":21,"w":75},{"r":21,"w":84},{"r":21,"w":92},{"r":21,"w":98},{"r":21,"w":100}
]
},
"spacing": -1,
"hconcat": [
 {"spacing": 25, "vconcat": [
  {"title": "a) DJF. 1 dot = 1 model", "width": 383, "height": 275, "data": {"name": "aN"},
   "encoding": {
    "x": {"field": "x", "type": "quantitative", "scale": {"domain": [-105, 105], "nice": false, "zero": false}, "axis": {"values": [-105, -5, 5, 105], "labels": false, "title": null}},
    "y": {"field": "r", "type": "quantitative", "scale": {"domain": [0, 21], "reverse": true, "nice": false, "zero": false}, "axis": {"values": [0, 7, 14, 21], "labelExpr": "['N Pole Min','N Midlat Max','N Subtrop Min','N ITCZ Max'][round(datum.value/7)]", "title": null, "minExtent": 130, "maxExtent": 130, "labelPadding": 5}}
   },
   "layer": [
    {"transform": [{"calculate": "-datum.d-5", "as": "x"}], "mark": {"type": "point", "color": "#f2331f"}},
    {"transform": [{"calculate": "datum.w+5", "as": "x"}], "mark": {"type": "point", "color": "#35308c"}}
   ]},
  {"width": 383, "height": 275, "data": {"name": "aS"},
   "encoding": {
    "x": {"field": "x", "type": "quantitative", "scale": {"domain": [-105, 105], "nice": false, "zero": false}, "axis": {"values": [-105, -5, 5, 105], "labelExpr": "abs(datum.value) > 50 ? '100' : '0'", "labelFlush": false, "labelPadding": 6, "title": "avg. % of points drying | avg. % of points wetting", "titlePadding": 4}},
    "y": {"field": "r", "type": "quantitative", "scale": {"domain": [0, 21], "reverse": true, "nice": false, "zero": false}, "axis": {"values": [0, 7, 14, 21], "labelExpr": "['S ITCZ Max','S Subtrop Min','S Midlat Max','S Pole Min'][round(datum.value/7)]", "title": null, "minExtent": 130, "maxExtent": 130, "labelPadding": 5}}
   },
   "layer": [
    {"transform": [{"calculate": "-datum.d-5", "as": "x"}], "mark": {"type": "point", "color": "#f2331f"}},
    {"transform": [{"calculate": "datum.w+5", "as": "x"}], "mark": {"type": "point", "color": "#35308c"}}
   ]}
 ]},
 {"spacing": 25, "vconcat": [
  {"title": "b) JJA. 1 dot = 1 model", "width": 383, "height": 275, "data": {"name": "bN"},
   "encoding": {
    "x": {"field": "x", "type": "quantitative", "scale": {"domain": [-105, 105], "nice": false, "zero": false}, "axis": {"values": [-105, -5, 5, 105], "labels": false, "title": null}},
    "y": {"field": "r", "type": "quantitative", "scale": {"domain": [0, 21], "reverse": true, "nice": false, "zero": false}, "axis": {"values": [0, 7, 14, 21], "labelExpr": "['N Pole Min','N Midlat Max','N Subtrop Min','N ITCZ Max'][round(datum.value/7)]", "title": null, "minExtent": 130, "maxExtent": 130, "labelPadding": 5}}
   },
   "layer": [
    {"transform": [{"calculate": "-datum.d-5", "as": "x"}], "mark": {"type": "point", "color": "#f2331f"}},
    {"transform": [{"calculate": "datum.w+5", "as": "x"}], "mark": {"type": "point", "color": "#35308c"}}
   ]},
  {"width": 383, "height": 275, "data": {"name": "bS"},
   "encoding": {
    "x": {"field": "x", "type": "quantitative", "scale": {"domain": [-105, 105], "nice": false, "zero": false}, "axis": {"values": [-105, -5, 5, 105], "labelExpr": "abs(datum.value) > 50 ? '100' : '0'", "labelFlush": false, "labelPadding": 6, "title": "avg. % of points drying | avg. % of points wetting", "titlePadding": 4}},
    "y": {"field": "r", "type": "quantitative", "scale": {"domain": [0, 21], "reverse": true, "nice": false, "zero": false}, "axis": {"values": [0, 7, 14, 21], "labelExpr": "['S ITCZ Max','S Subtrop Min','S Midlat Max','S Pole Min'][round(datum.value/7)]", "title": null, "minExtent": 130, "maxExtent": 130, "labelPadding": 5}}
   },
   "layer": [
    {"transform": [{"calculate": "-datum.d-5", "as": "x"}], "mark": {"type": "point", "color": "#f2331f"}},
    {"transform": [{"calculate": "datum.w+5", "as": "x"}], "mark": {"type": "point", "color": "#35308c"}}
   ]}
 ]}
]
}
